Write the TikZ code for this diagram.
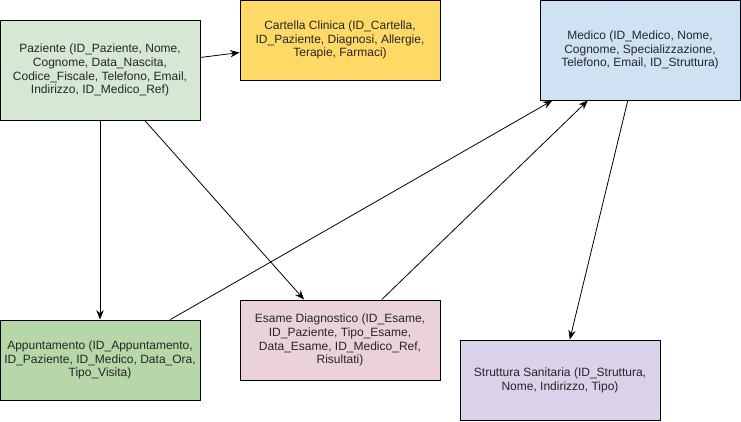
\documentclass[tikz,border=0pt]{standalone}
\usepackage{fontspec}
\setmainfont{Liberation Sans}
\usetikzlibrary{arrows.meta}
\definecolor{pazgreen}{HTML}{D5E8D4}
\definecolor{cartyellow}{HTML}{FFD966}
\definecolor{medblue}{HTML}{CFE2F3}
\definecolor{appgreen}{HTML}{B6D7A8}
\definecolor{esapink}{HTML}{EAD1DC}
\definecolor{strlilac}{HTML}{D9D2E9}
\definecolor{txtgray}{HTML}{262626}
\tikzset{
	entity/.style={draw, line width=0.75pt, inner sep=0pt, align=center, text=txtgray,
		font=\fontsize{9}{10.4}\selectfont, minimum width=150pt, minimum height=60pt},
	rel/.style={line width=0.6pt, -{Stealth[length=7pt,width=5.5pt]}}
}
\begin{document}
\begin{tikzpicture}[x=0.75pt, y=-0.75pt]
		\useasboundingbox (0,0) rectangle (741,421);
		% tabelle
		\node[entity, fill=pazgreen, minimum height=75pt] (paz) at (100,70)
			{Paziente (ID\_Paziente, Nome,\\ Cognome, Data\_Nascita,\\ Codice\_Fiscale, Telefono, Email,\\ Indirizzo, ID\_Medico\_Ref)};
		\node[entity, fill=cartyellow] (car) at (340,40)
			{Cartella Clinica (ID\_Cartella,\\ ID\_Paziente, Diagnosi, Allergie,\\ Terapie, Farmaci)};
		\node[entity, fill=medblue, minimum height=75pt] (med) at (640,50)
			{Medico (ID\_Medico, Nome,\\ Cognome, Specializzazione,\\ Telefono, Email, ID\_Struttura)};
		\node[entity, fill=appgreen] (app) at (100,360)
			{Appuntamento (ID\_Appuntamento,\\ ID\_Paziente, ID\_Medico, Data\_Ora,\\ Tipo\_Visita)};
		\node[entity, fill=esapink] (esa) at (340,340)
			{Esame Diagnostico (ID\_Esame,\\ ID\_Paziente, Tipo\_Esame,\\ Data\_Esame, ID\_Medico\_Ref,\\ Risultati)};
		\node[entity, fill=strlilac] (str) at (560,380)
			{Struttura Sanitaria (ID\_Struttura,\\ Nome, Indirizzo, Tipo)};
		% relazioni
		\draw[rel] (paz) -- (car);
		\draw[rel] (paz) -- (app);
		\draw[rel] (paz) -- (esa);
		\draw[rel] (app) -- (med);
		\draw[rel] (esa) -- (med);
		\draw[rel] (med) -- (str);
	\end{tikzpicture}
\end{document}
